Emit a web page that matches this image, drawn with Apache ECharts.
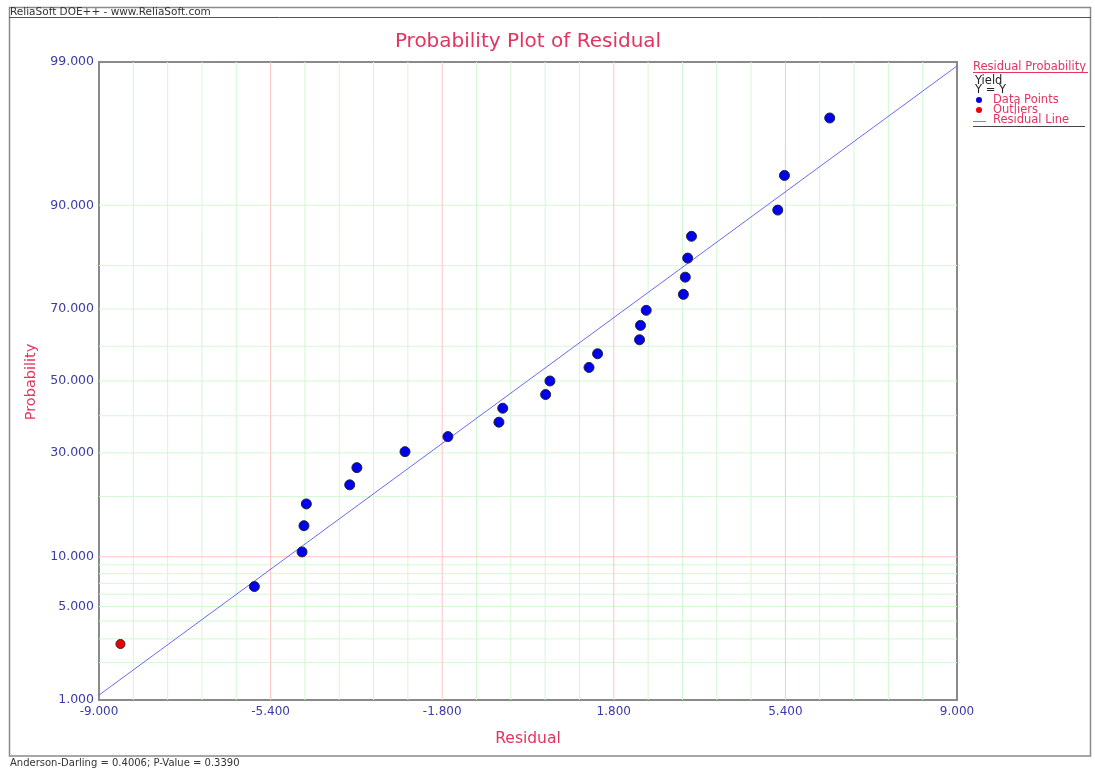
<!DOCTYPE html>
<html><head><meta charset="utf-8">
<script src="https://cdn.jsdelivr.net/npm/echarts@6/dist/echarts.min.js"></script>
<style>html,body{margin:0;padding:0;background:#fff}#c{width:1095px;height:772px}</style>
</head><body><div id="c"></div>
<script>
// ---- data ----
const pointResiduals = [-5.74,-4.74,-4.70,-4.65,-3.74,-3.59,-2.58,-1.68,-0.61,-0.53,0.37,0.46,1.28,1.46,2.34,2.36,2.48,3.26,3.30,3.35,3.43,5.24,5.38,6.33];
const pointProbabilities = [6.693,10.630,14.567,18.504,22.441,26.378,30.315,34.252,38.189,42.126,46.063,50.000,53.937,57.874,61.811,65.748,69.685,73.622,77.559,81.496,85.433,89.370,93.307,97.244];
const outlierResiduals = [-8.55];
const outlierProbabilities = [2.756];
const lineResiduals = [-9, 9];
const lineProbabilities = [1.10, 98.92];
const xTickValues = [-9, -5.4, -1.8, 1.8, 5.4, 9];
const xTickLabels = ['-9.000','-5.400','-1.800','1.800','5.400','9.000'];
const yTickProbabilities = [1, 5, 10, 30, 50, 70, 90, 99];
const yTickLabels = ['1.000','5.000','10.000','30.000','50.000','70.000','90.000','99.000'];
const xMinorGrid = [-8.28,-7.56,-6.84,-6.12,-4.68,-3.96,-3.24,-2.52,-1.08,-0.36,0.36,1.08,2.52,3.24,3.96,4.68,6.12,6.84,7.56,8.28];
const xMajorGrid = [-5.4,-1.8,1.8,5.4];
const yMinorGrid = [2,3,4,5,6,7,8,9,20,30,40,50,60,70,80,90];
const yMajorGrid = [10];

// ---- normal probability scale ----
function probit(p){
  const a=[-3.969683028665376e+01,2.209460984245205e+02,-2.759285104469687e+02,1.383577518672690e+02,-3.066479806614716e+01,2.506628277459239e+00];
  const b=[-5.447609879822406e+01,1.615858368580409e+02,-1.556989798598866e+02,6.680131188771972e+01,-1.328068155288572e+01];
  const c=[-7.784894002430293e-03,-3.223964580411365e-01,-2.400758277161838e+00,-2.549732539343734e+00,4.374664141464968e+00,2.938163982698783e+00];
  const d=[7.784695709041462e-03,3.224671290700398e-01,2.445134137142996e+00,3.754408661907416e+00];
  const pl=0.02425, ph=1-pl; let q,r;
  if(p<pl){q=Math.sqrt(-2*Math.log(p));return (((((c[0]*q+c[1])*q+c[2])*q+c[3])*q+c[4])*q+c[5])/((((d[0]*q+d[1])*q+d[2])*q+d[3])*q+1);}
  if(p<=ph){q=p-0.5;r=q*q;return (((((a[0]*r+a[1])*r+a[2])*r+a[3])*r+a[4])*r+a[5])*q/(((((b[0]*r+b[1])*r+b[2])*r+b[3])*r+b[4])*r+1);}
  q=Math.sqrt(-2*Math.log(1-p));return -(((((c[0]*q+c[1])*q+c[2])*q+c[3])*q+c[4])*q+c[5])/((((d[0]*q+d[1])*q+d[2])*q+d[3])*q+1);
}
const zOf = pct => probit(pct/100);

const FONT = 'DejaVu Sans';
const BLUE_TXT = '#3a3aa8';
const RED_TXT = '#e5335f';
const MINOR = '#d4f7d4';
const MAJOR = '#ffc4c4';
const Z_MIN = zOf(1), Z_MAX = zOf(99);

const yTickZ = yTickProbabilities.map(zOf);
function yLabel(v){
  let best = 0, bd = Infinity;
  yTickZ.forEach((z,i)=>{ const dd=Math.abs(z-v); if(dd<bd){bd=dd;best=i;} });
  return yTickLabels[best];
}
function xLabel(v){
  let best = 0, bd = Infinity;
  xTickValues.forEach((x,i)=>{ const dd=Math.abs(x-v); if(dd<bd){bd=dd;best=i;} });
  return xTickLabels[best];
}
// grid lines as broken line series (segments separated by gaps)
function gridSeries(xs, ps, color){
  const data = [];
  xs.forEach(x=>{ data.push([x, Z_MIN], [x, Z_MAX], [x, '-']); });
  ps.forEach(p=>{ const z = zOf(p); data.push([-9, z], [9, z], ['-', z]); });
  return { type:'line', data, silent:true, z:1, symbol:'none', connectNulls:false,
    lineStyle:{color, width:1}, emphasis:{disabled:true}, animation:false };
}

const chart = echarts.init(document.getElementById('c'), null, {renderer:'canvas'});
chart.setOption({
  animation:false,
  backgroundColor:'#fff',
  grid:{left:99, right:138, top:62, bottom:72, show:true, borderColor:'#8a8a8a', borderWidth:2, backgroundColor:'transparent'},
  xAxis:{
    type:'value', min:-9, max:9,
    axisLine:{show:false},
    splitLine:{show:false},
    axisTick:{show:false},
    axisLabel:{customValues:xTickValues, formatter:xLabel, color:BLUE_TXT, fontFamily:FONT, fontSize:12, margin:6}
  },
  yAxis:{
    type:'value', min:Z_MIN, max:Z_MAX,
    axisLine:{show:false},
    splitLine:{show:false},
    axisTick:{show:false},
    axisLabel:{customValues:yTickZ, formatter:yLabel, color:BLUE_TXT, fontFamily:FONT, fontSize:12.5, margin:5}
  },
  series:[
    gridSeries(xMinorGrid, yMinorGrid, MINOR),
    gridSeries(xMajorGrid, yMajorGrid, MAJOR),
    { name:'Residual Line', type:'line', z:3, silent:true,
      data: lineResiduals.map((x,i)=>[x, zOf(lineProbabilities[i])]),
      symbol:'none', lineStyle:{color:'#6a6af2', width:1}
    },
    { name:'Data Points', type:'scatter', z:4, symbolSize:10,
      data: pointResiduals.map((x,i)=>[x, zOf(pointProbabilities[i])]),
      itemStyle:{color:'#0000ee', opacity:1, borderColor:'#22223a', borderWidth:1}
    },
    { name:'Outliers', type:'scatter', z:4, symbolSize:9,
      data: outlierResiduals.map((x,i)=>[x, zOf(outlierProbabilities[i])]),
      itemStyle:{color:'#ee0000', opacity:1, borderColor:'#3a2222', borderWidth:1}
    }
  ],
  graphic:[
    {type:'rect', shape:{x:9.5, y:7.5, width:1081, height:748.5}, style:{fill:'none', stroke:'#8a8a8a', lineWidth:1.5}, silent:true},
    {type:'line', shape:{x1:9, y1:17.5, x2:1091, y2:17.5}, style:{stroke:'#555', lineWidth:1}, silent:true},
    {type:'text', x:10, y:12.5, style:{text:'ReliaSoft DOE++ - www.ReliaSoft.com', fontFamily:FONT, fontSize:10.5, fill:'#333', textVerticalAlign:'middle'}, silent:true},
    {type:'text', x:10, y:763, style:{text:'Anderson-Darling = 0.4006; P-Value = 0.3390', fontFamily:FONT, fontSize:10, fill:'#333', textVerticalAlign:'middle'}, silent:true},
    {type:'text', x:528, y:42, style:{text:'Probability Plot of Residual', fontFamily:FONT, fontSize:20, fill:RED_TXT, textAlign:'center', textVerticalAlign:'middle'}, silent:true},
    {type:'text', x:528, y:739, style:{text:'Residual', fontFamily:FONT, fontSize:15.5, fill:RED_TXT, textAlign:'center', textVerticalAlign:'middle'}, silent:true},
    {type:'text', x:31, y:382, rotation:Math.PI/2, style:{text:'Probability', fontFamily:FONT, fontSize:14.5, fill:RED_TXT, textAlign:'center', textVerticalAlign:'middle'}, silent:true},
    // legend
    {type:'text', x:973, y:67, style:{text:'Residual Probability', fontFamily:FONT, fontSize:11.5, fill:RED_TXT, textVerticalAlign:'middle'}, silent:true},
    {type:'line', shape:{x1:973, y1:72.5, x2:1088, y2:72.5}, style:{stroke:RED_TXT, lineWidth:1}, silent:true},
    {type:'text', x:975, y:81, style:{text:'Yield', fontFamily:FONT, fontSize:11.5, fill:'#222', textVerticalAlign:'middle'}, silent:true},
    {type:'text', x:975, y:90, style:{text:'Y = Y', fontFamily:FONT, fontSize:11.5, fill:'#222', textVerticalAlign:'middle'}, silent:true},
    {type:'circle', shape:{cx:979, cy:100, r:3}, style:{fill:'#0000ee'}, silent:true},
    {type:'text', x:993, y:100, style:{text:'Data Points', fontFamily:FONT, fontSize:11.5, fill:RED_TXT, textVerticalAlign:'middle'}, silent:true},
    {type:'circle', shape:{cx:979, cy:110, r:3}, style:{fill:'#ee0000'}, silent:true},
    {type:'text', x:993, y:110, style:{text:'Outliers', fontFamily:FONT, fontSize:11.5, fill:RED_TXT, textVerticalAlign:'middle'}, silent:true},
    {type:'line', shape:{x1:973, y1:121.5, x2:986, y2:121.5}, style:{stroke:'#7b7bf5', lineWidth:1}, silent:true},
    {type:'text', x:993, y:120, style:{text:'Residual Line', fontFamily:FONT, fontSize:11.5, fill:RED_TXT, textVerticalAlign:'middle'}, silent:true},
    {type:'line', shape:{x1:973, y1:126.5, x2:1085, y2:126.5}, style:{stroke:'#444', lineWidth:1}, silent:true}
  ]
});
</script></body></html>
